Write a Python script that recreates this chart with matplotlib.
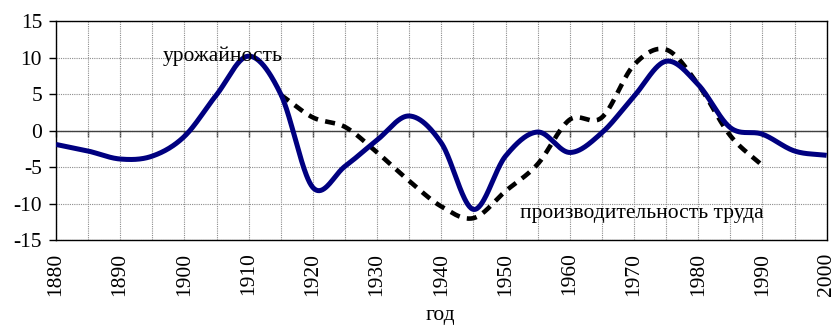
import numpy as np
import matplotlib
matplotlib.use("Agg")
import matplotlib.pyplot as plt

plt.rcParams["font.family"] = ["Liberation Serif", "DejaVu Serif"]
plt.rcParams["axes.unicode_minus"] = False

# Yield deviation, 1880-2000 (5-year steps)
yield_years = [1880, 1885, 1890, 1895, 1900, 1905, 1910, 1915, 1920, 1925,
               1930, 1935, 1940, 1945, 1950, 1955, 1960, 1965, 1970, 1975,
               1980, 1985, 1990, 1995, 2000]
yield_vals = [-1.9, -2.8, -3.9, -3.5, -0.8, 4.9, 10.2, 5.0, -7.8, -4.9,
              -1.3, 2.0, -1.7, -10.8, -3.5, -0.2, -3.0, -0.3, 4.7, 9.5,
              6.3, 0.4, -0.5, -2.8, -3.4]

# Labour productivity deviation, 1915-1990
prod_years = [1915, 1920, 1925, 1930, 1935, 1940, 1945, 1950, 1955, 1960,
              1965, 1970, 1975, 1980, 1985, 1990]
prod_vals = [4.9, 1.8, 0.5, -3.0, -6.9, -10.4, -12.0, -8.3, -4.6, 1.5,
             1.8, 9.0, 11.1, 6.3, -0.7, -4.8]

x_tick_years = list(range(1880, 2001, 5))
y_ticks = [-15, -10, -5, 0, 5, 10, 15]

label_yield = "урожайность"
label_prod = "производительность труда"
x_title = "год"


def smooth(xs, ys, n=40):
    """Catmull-Rom style smoothing between consecutive points."""
    xs = np.asarray(xs, float)
    ys = np.asarray(ys, float)
    px = np.concatenate([[2 * xs[0] - xs[1]], xs, [2 * xs[-1] - xs[-2]]])
    py = np.concatenate([[2 * ys[0] - ys[1]], ys, [2 * ys[-1] - ys[-2]]])
    out_x, out_y = [], []
    t = np.linspace(0, 1, n, endpoint=False)
    for i in range(1, len(px) - 2):
        p0, p1, p2, p3 = (np.array([px[j], py[j]]) for j in range(i - 1, i + 3))
        c1 = p1 + (p2 - p0) / 6.0
        c2 = p2 - (p3 - p1) / 6.0
        b = ((1 - t) ** 3)[:, None] * p1 + (3 * (1 - t) ** 2 * t)[:, None] * c1 \
            + (3 * (1 - t) * t ** 2)[:, None] * c2 + (t ** 3)[:, None] * p2
        out_x.extend(b[:, 0])
        out_y.extend(b[:, 1])
    out_x.append(xs[-1])
    out_y.append(ys[-1])
    return np.array(out_x), np.array(out_y)


fig = plt.figure(figsize=(8.35, 3.25), dpi=100)
ax = fig.add_axes([0.067, 0.2615, 0.923, 0.6735])

ax.set_xlim(1880, 2000)
ax.set_ylim(-15, 15)

# grid
ax.set_xticks(x_tick_years)
ax.set_xticklabels([str(y) if y % 10 == 0 else "" for y in x_tick_years],
                   rotation=90, fontsize=15.5)
ax.set_yticks(y_ticks)
ax.set_yticklabels([str(v) for v in y_ticks], fontsize=15.5)
ax.grid(True, color="#8c8c8c", linestyle=(0, (1, 1)), linewidth=0.8)
ax.tick_params(axis="x", length=0, pad=9)
ax.tick_params(axis="y", direction="out", length=5, width=1, pad=5)
for s in ax.spines.values():
    s.set_color("black")
    s.set_linewidth(1.0)

# zero axis with its tick marks
ax.axhline(0, color="#404040", linewidth=1.0, zorder=2)
sec = ax.secondary_xaxis(0.5)
sec.set_xticks(x_tick_years)
sec.set_xticklabels([])
sec.tick_params(direction="in", length=4, width=1, color="#404040")
sec.spines["bottom"].set_visible(False)
sec.spines["top"].set_visible(False)

sx, sy = smooth(yield_years, yield_vals)
ax.plot(sx, sy, color="#000080", linewidth=3.6, solid_capstyle="butt", zorder=4)

dx, dy = smooth(prod_years, prod_vals)
ax.plot(dx, dy, color="black", linewidth=3.3, linestyle=(0, (2.2, 1.6)),
        dash_capstyle="butt", zorder=3)

ax.text(1896.6, 10.2, label_yield, fontsize=15.5, va="center", ha="left", zorder=5)
ax.text(1952.2, -11.4, label_prod, fontsize=15.5, va="center", ha="left", zorder=5)

fig.text(0.527, 0.016, x_title, fontsize=15.5, ha="center", va="baseline")

fig.savefig("out.png", dpi=100)
